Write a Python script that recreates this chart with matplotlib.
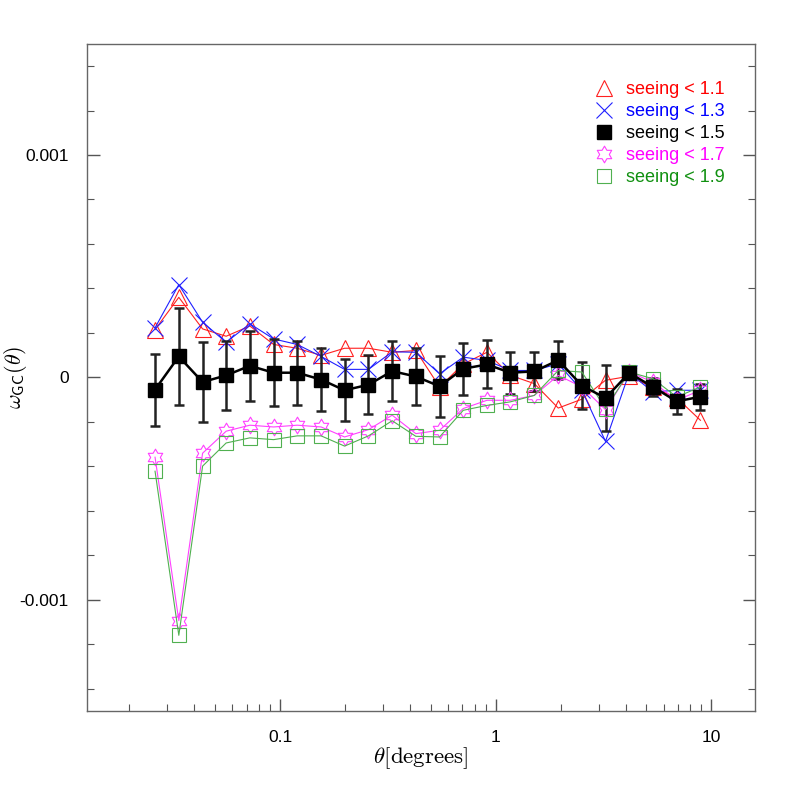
import numpy as np
import matplotlib
matplotlib.use('Agg')
import matplotlib.pyplot as plt
from matplotlib.lines import Line2D
from matplotlib.path import Path
from matplotlib.ticker import FixedLocator, MultipleLocator, FuncFormatter

plt.rcParams['font.family'] = ['Liberation Sans', 'DejaVu Sans']
plt.rcParams['mathtext.fontset'] = 'cm'

# angular bins (degrees)
theta = [0.0263, 0.0339, 0.0437, 0.0562, 0.0724, 0.0933, 0.120, 0.155,
         0.199, 0.257, 0.331, 0.426, 0.549, 0.707, 0.911, 1.17, 1.51,
         1.95, 2.51, 3.23, 4.16, 5.36, 6.91, 8.90]

# w_GC(theta) in units of 1e-4
w_11 = [2.15, 3.60, 2.18, 1.85, 2.31, 1.48, 1.31, 0.99, 1.31, 1.31, 1.13, 1.21,
        -0.43, 0.60, 1.13, 0.09, -0.28, -1.38, -0.98, -0.13, 0.05, -0.45, -0.92, -1.93]
w_13 = [2.23, 4.17, 2.48, 1.58, 2.41, 1.73, 1.48, 0.94, 0.36, 0.36, 1.15, 1.13,
        0.16, 0.91, 0.76, 0.31, 0.31, 0.61, -0.58, -2.88, 0.20, -0.65, -0.58, -0.58]
w_15 = [-0.55, 0.94, -0.21, 0.09, 0.52, 0.21, 0.21, -0.10, -0.58, -0.33, 0.28, 0.04,
        -0.40, 0.39, 0.58, 0.21, 0.27, 0.77, -0.37, -0.93, 0.20, -0.43, -1.08, -0.87]
err_15 = [1.62, 2.18, 1.79, 1.56, 1.57, 1.51, 1.43, 1.42, 1.39, 1.32, 1.35, 1.28,
          1.37, 1.16, 1.08, 0.94, 0.87, 0.86, 1.05, 1.49, 0.28, 0.39, 0.55, 0.59]
w_17 = [-3.59, -10.94, -3.41, -2.42, -2.15, -2.23, -2.15, -2.23, -2.68, -2.35, -1.70, -2.53,
        -2.38, -1.40, -1.03, -1.03, -0.81, 0.09, -0.43, -1.45, 0.24, -0.21, -1.03, -0.58]
w_19 = [-4.22, -11.60, -3.99, -2.95, -2.72, -2.80, -2.63, -2.63, -3.09, -2.63, -1.95, -2.65,
        -2.68, -1.48, -1.26, -1.10, -0.81, 0.31, 0.24, -1.40, 0.24, -0.06, -0.88, -0.43]

labels = ['seeing < 1.1', 'seeing < 1.3', 'seeing < 1.5', 'seeing < 1.7', 'seeing < 1.9']
text_colors = ['#ff0000', '#0000ff', '#000000', '#ff00ff', '#109010']


def scale(v):
    return np.array(v) * 1e-4


# six-pointed star marker
ang = np.deg2rad(90 + 30 * np.arange(12))
rad = np.where(np.arange(12) % 2 == 0, 1.0, 0.58)
star_verts = np.column_stack([rad * np.cos(ang), rad * np.sin(ang)])
star = Path(np.vstack([star_verts, star_verts[:1]]), closed=True)

fig = plt.figure(figsize=(7.97, 7.97), dpi=100)
ax = fig.add_axes([0.109, 0.108, 0.838, 0.837])

ax.plot(theta, scale(w_11), color='#ff2020', lw=0.8, marker='^', ms=12,
        mfc='none', mec='#ff2020', mew=0.8)
ax.plot(theta, scale(w_13), color='#2020ff', lw=0.8, marker='x', ms=11,
        mec='#2020ff', mew=0.8)
ax.errorbar(theta, scale(w_15), yerr=scale(err_15), color='black', lw=1.8,
            marker='s', ms=10, ecolor='#222222', elinewidth=1.8, capsize=3.5,
            capthick=1.8)
ax.plot(theta, scale(w_17), color='#ff40ff', lw=0.8, marker=star, ms=12,
        mfc='none', mec='#ff40ff', mew=0.8)
ax.plot(theta, scale(w_19), color='#50b050', lw=0.8, marker='s', ms=10,
        mfc='none', mec='#50b050', mew=0.8)

ax.set_xscale('log')
ax.set_xlim(0.0127, 15.9)
ax.set_ylim(-0.0015, 0.0015)

ax.xaxis.set_major_locator(FixedLocator([0.1, 1, 10]))
ax.xaxis.set_major_formatter(FuncFormatter(lambda v, p: '%g' % v))
ax.yaxis.set_major_locator(FixedLocator([-0.001, 0, 0.001]))
ax.yaxis.set_major_formatter(FuncFormatter(lambda v, p: '%g' % round(v, 4)))
ax.yaxis.set_minor_locator(MultipleLocator(0.0002))

ax.tick_params(which='both', direction='in', top=False, right=True,
               color='#555555', labelsize=12.5)
ax.tick_params(which='major', length=9, width=1)
ax.tick_params(which='minor', length=5, width=0.8)
ax.tick_params(axis='x', pad=14)
ax.tick_params(axis='y', pad=13)
for s in ax.spines.values():
    s.set_color('#666666')
    s.set_linewidth(1)

ax.set_xlabel(r'$\theta[\mathrm{degrees}]$', fontsize=16.5)
ax.xaxis.set_label_coords(0.5, -0.052)
ax.set_ylabel(r'$\omega_{\mathsf{GC}}(\theta)$', fontsize=16)
ax.yaxis.set_label_coords(-0.086, 0.5)

handles = [
    Line2D([], [], ls='none', marker='^', ms=12, mfc='none', mec='#ff2020', mew=0.8),
    Line2D([], [], ls='none', marker='x', ms=11, mec='#2020ff', mew=0.8),
    Line2D([], [], ls='none', marker='s', ms=10, color='black'),
    Line2D([], [], ls='none', marker=star, ms=12, mfc='none', mec='#ff40ff', mew=0.8),
    Line2D([], [], ls='none', marker='s', ms=10, mfc='none', mec='#50b050', mew=0.8),
]
leg = ax.legend(handles, labels, loc='upper left', bbox_to_anchor=(0.745, 0.958),
                frameon=False, fontsize=13, handlelength=1.2, handletextpad=0.6,
                labelspacing=0.28, borderpad=0)
for t, c in zip(leg.get_texts(), text_colors):
    t.set_color(c)

plt.savefig('out.png', dpi=100)
plt.close()
